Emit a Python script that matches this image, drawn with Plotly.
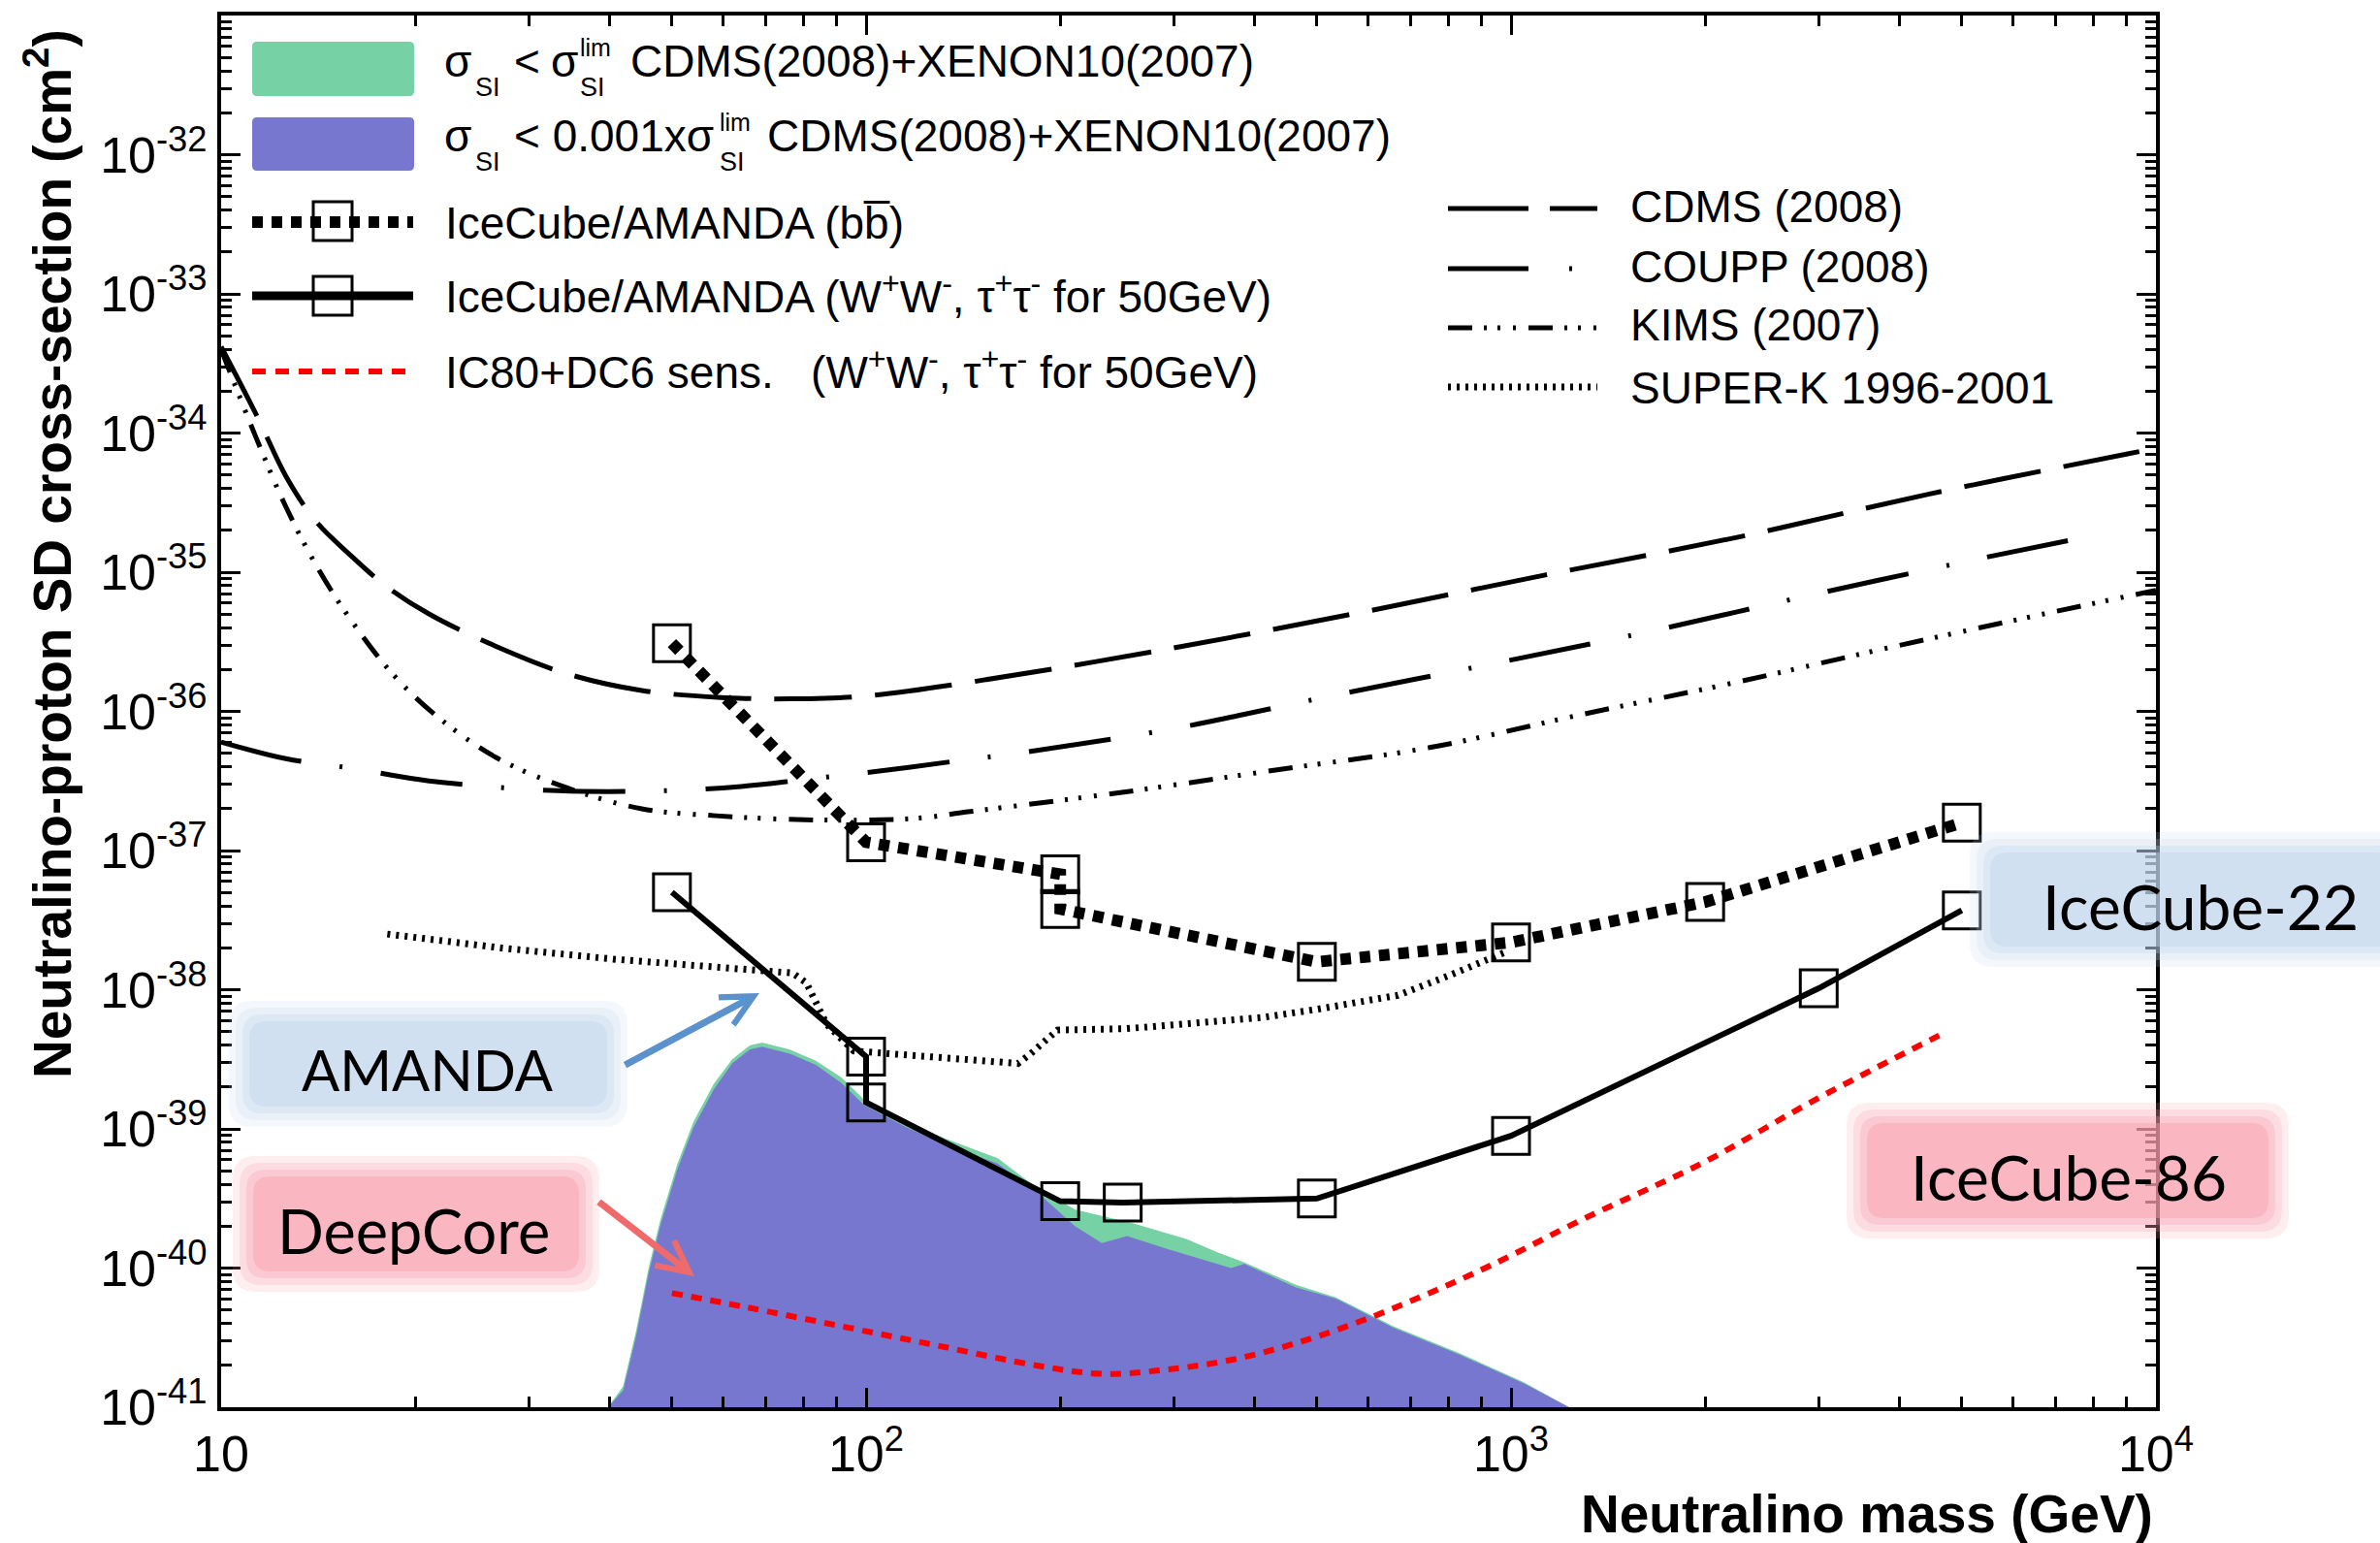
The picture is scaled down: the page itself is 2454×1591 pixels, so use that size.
import plotly.graph_objects as go

# ---------------- data : neutralino mass (GeV) and log10(cross-section / cm^2) ----------------
cdms_mass = [10, 11.4, 12.6, 14, 15.8, 17.9, 21, 26.9, 34.4, 44.9, 59.6, 76.2, 99.3, 145, 287, 569, 1130, 2239, 4436, 9036, 10000]
cdms_log = [-33.38, -33.89, -34.31, -34.63, -34.87, -35.09, -35.30, -35.54, -35.73, -35.85, -35.90, -35.91, -35.89,
            -35.79, -35.56, -35.30, -35.02, -34.75, -34.44, -34.15, -34.11]

coupp_mass = [10, 12.6, 16, 21, 33.3, 49, 64, 80.4, 108.6, 141.6, 166, 295, 525, 955, 1702, 2944, 5236, 8337]
coupp_log = [-36.22, -36.34, -36.41, -36.50, -36.57, -36.57, -36.54, -36.49, -36.42, -36.35, -36.31, -36.13,
             -35.89, -35.65, -35.41, -35.16, -34.91, -34.72]

kims_mass = [10, 11.3, 12.6, 14.2, 16.1, 18.6, 21.8, 26.9, 34.4, 44.9, 58.5, 83.4, 118.6, 145, 251, 434, 748,
             1294, 2239, 3873, 6699, 10000]
kims_log = [-33.40, -34.02, -34.53, -34.99, -35.38, -35.75, -36.05, -36.34, -36.55, -36.70, -36.75, -36.78, -36.77,
            -36.72, -36.58, -36.42, -36.26, -36.02, -35.79, -35.54, -35.30, -35.13]

superk_mass = [18.1, 27.2, 40.5, 60.1, 76.9, 80.8, 86.9, 95.7, 108, 172, 180, 198, 253, 411, 501, 668, 800, 980]
superk_log = [-37.60, -37.70, -37.78, -37.84, -37.88, -37.95, -38.25, -38.44, -38.46, -38.53, -38.46, -38.29,
              -38.28, -38.20, -38.14, -38.04, -37.90, -37.73]

bb_mass = [50, 100, 200, 200, 500, 1000, 2000, 5000]
bb_log = [-35.51, -36.94, -37.17, -37.42, -37.80, -37.66, -37.37, -36.80]

ww_mass = [50, 100, 100, 200, 250, 500, 1000, 3000, 5000]
ww_log = [-37.30, -38.48, -38.81, -39.52, -39.53, -39.50, -39.05, -37.99, -37.43]

ic80_mass = [50, 65, 92, 130, 184, 232, 292, 368, 464, 586, 739, 931, 1318, 1991, 2965, 4742]
ic80_log = [-40.18, -40.28, -40.42, -40.56, -40.70, -40.76, -40.73, -40.66, -40.54, -40.38, -40.19, -39.98,
            -39.63, -39.24, -38.79, -38.30]

green_mass = [39.8, 42, 44, 46, 48, 51, 54, 58, 62, 66, 69, 76.2, 83.6, 91.6, 99.3, 115.6, 132.7, 160, 183.6,
              211, 260, 313, 352, 386, 464, 535, 658, 830, 1047, 1230]
green_log = [-41.0, -40.85, -40.45, -40.0, -39.65, -39.25, -38.95, -38.68, -38.50, -38.40, -38.38, -38.43, -38.51,
             -38.63, -38.79, -38.95, -39.07, -39.21, -39.42, -39.58, -39.68, -39.79, -39.89, -39.96, -40.12,
             -40.21, -40.42, -40.61, -40.82, -41.0]

blue_mass = [39.8, 42, 44, 46, 48, 51, 54, 58, 62, 66, 69, 76.2, 83.6, 91.6, 99.3, 115.6, 132.7, 160, 183.6,
             211, 232, 254, 292, 328, 368, 386, 464, 535, 658, 830, 1047, 1230]
blue_log = [-41.0, -40.88, -40.49, -40.04, -39.69, -39.29, -38.99, -38.72, -38.53, -38.43, -38.41, -38.46, -38.54,
            -38.67, -38.83, -38.99, -39.11, -39.25, -39.45, -39.70, -39.82, -39.77, -39.86, -39.93, -40.00,
            -39.97, -40.14, -40.22, -40.43, -40.62, -40.83, -41.0]

x_tickvals = [10, 100, 1000, 10000]
x_ticktext = ["10", "10<sup>2</sup>", "10<sup>3</sup>", "10<sup>4</sup>"]
y_exps = list(range(-41, -31))
y_ticktext = ["10<sup>%d</sup>" % e for e in y_exps]


def lin(vals):
    return [10.0 ** v for v in vals]


# ---------------- geometry helpers (pixel -> paper) ----------------
W, H = 2454, 1591
L, R, T, B = 228, 2223, 16, 1451


def xp(x):
    return (x - L) / (R - L)


def yp(y):
    return (B - y) / (B - T)


def rrect(x0, y0, x1, y1, r):
    def P(x, y):
        return "%.5f,%.5f" % (xp(x), yp(y))
    return ("M %s L %s Q %s %s L %s Q %s %s L %s Q %s %s L %s Q %s %s Z" % (
        P(x0 + r, y0), P(x1 - r, y0), P(x1, y0), P(x1, y0 + r), P(x1, y1 - r), P(x1, y1), P(x1 - r, y1),
        P(x0 + r, y1), P(x0, y1), P(x0, y1 - r), P(x0, y0 + r), P(x0, y0), P(x0 + r, y0)))


FONT = "Liberation Sans, Arial, Helvetica, sans-serif"
BOXFONT = "Lato, Open Sans, sans-serif"

fig = go.Figure()

# shaded regions
fig.add_trace(go.Scatter(x=green_mass, y=lin(green_log), mode="lines", fill="toself",
                         fillcolor="#76d1a5", line=dict(width=0, color="#76d1a5"), showlegend=False))
fig.add_trace(go.Scatter(x=blue_mass, y=lin(blue_log), mode="lines", fill="toself",
                         fillcolor="#7777cf", line=dict(width=0, color="#7777cf"), showlegend=False))

# direct-detection limits
fig.add_trace(go.Scatter(x=cdms_mass, y=lin(cdms_log), mode="lines", line_shape="spline",
                         line=dict(color="black", width=5, dash="80px,24px"), showlegend=False))
fig.add_trace(go.Scatter(x=coupp_mass, y=lin(coupp_log), mode="lines", line_shape="spline",
                         line=dict(color="black", width=5, dash="85px,40px,3px,40px"), showlegend=False))
fig.add_trace(go.Scatter(x=kims_mass, y=lin(kims_log), mode="lines", line_shape="spline",
                         line=dict(color="black", width=5, dash="25px,12px,3px,11px,3px,13px,3px,13px"),
                         showlegend=False))
fig.add_trace(go.Scatter(x=superk_mass, y=lin(superk_log), mode="lines",
                         line=dict(color="black", width=7, dash="3px,6px"), showlegend=False))

# IceCube sensitivity
fig.add_trace(go.Scatter(x=ic80_mass, y=lin(ic80_log), mode="lines", line_shape="spline",
                         line=dict(color="#ff0000", width=6, dash="11px,9px"), showlegend=False))
fig.add_trace(go.Scatter(x=ww_mass, y=lin(ww_log), mode="lines+markers",
                         line=dict(color="black", width=6),
                         marker=dict(symbol="square-open", size=38, color="black", line=dict(width=3)),
                         showlegend=False))
fig.add_trace(go.Scatter(x=bb_mass, y=lin(bb_log), mode="lines+markers",
                         line=dict(color="black", width=12, dash="11px,9px"),
                         marker=dict(symbol="square-open", size=38, color="black", line=dict(width=3)),
                         showlegend=False))

shapes = []
ann = []

# ---------------- hand-made legend (left block) ----------------
shapes.append(dict(type="path", xref="paper", yref="paper", path=rrect(260, 43, 427, 99, 5),
                   fillcolor="#76d1a5", line=dict(width=0), layer="above"))
shapes.append(dict(type="path", xref="paper", yref="paper", path=rrect(260, 121, 427, 176, 5),
                   fillcolor="#7777cf", line=dict(width=0), layer="above"))


def hline(x0, x1, y, color, width, dash="solid"):
    shapes.append(dict(type="line", xref="paper", yref="paper", x0=xp(x0), x1=xp(x1), y0=yp(y), y1=yp(y),
                       line=dict(color=color, width=width, dash=dash), layer="above"))


def sq(cx, cy, s=40):
    shapes.append(dict(type="rect", xref="paper", yref="paper", x0=xp(cx - s / 2), x1=xp(cx + s / 2),
                       y0=yp(cy + s / 2), y1=yp(cy - s / 2), line=dict(color="black", width=3),
                       fillcolor="rgba(0,0,0,0)", layer="above"))


hline(260, 426, 229, "black", 12, "11px,9px")
sq(343, 228)
hline(260, 426, 305, "black", 9)
sq(343, 305)
hline(260, 426, 383, "#ff0000", 6, "14px,10px")

# right block
hline(1493, 1647, 215, "black", 5, "83px,22px")
hline(1493, 1647, 277, "black", 5, "83px,42px,3px,40px")
hline(1493, 1647, 338, "black", 5, "25px,12px,3px,11px,3px,13px,3px,13px")
hline(1493, 1647, 399, "black", 7, "3px,6px")


def txt(x, y, s, size=46, anchor="left", family=FONT, color="black"):
    ann.append(dict(xref="paper", yref="paper", x=xp(x), y=yp(y), text=s, showarrow=False,
                    xanchor=anchor, yanchor="middle", font=dict(family=family, size=size, color=color),
                    borderpad=0))


# line 1
txt(457, 63, "σ")
txt(489, 90, "SI", 27)
txt(529, 63, "<")
txt(567, 63, "σ")
txt(597, 49, "lim", 25)
txt(597, 90, "SI", 27)
txt(649, 63, "CDMS(2008)+XENON10(2007)")
# line 2
txt(457, 140, "σ")
txt(489, 167, "SI", 27)
txt(529, 140, "< 0.001xσ")
txt(741, 126, "lim", 25)
txt(741, 167, "SI", 27)
txt(790, 140, "CDMS(2008)+XENON10(2007)")
# lines 3-5
txt(458, 230, "IceCube/AMANDA (bb\u0305)")
txt(458, 303, "IceCube/AMANDA (W<sup>+</sup>W<sup>-</sup>, τ<sup>+</sup>τ<sup>-</sup> for 50GeV)")
txt(458, 381, "IC80+DC6 sens. \u00a0\u00a0(W<sup>+</sup>W<sup>-</sup>, τ<sup>+</sup>τ<sup>-</sup> for 50GeV)")
# right block text
txt(1680, 213, "CDMS (2008)")
txt(1680, 275, "COUPP (2008)")
txt(1680, 335, "KIMS (2007)")
txt(1680, 400, "SUPER-K 1996-2001")


# ---------------- glowing label boxes ----------------
def glowbox(x0, y0, x1, y1, rgb, alphas=(0.18, 0.22, 0.3, 0.45), step=7):
    for i, a in enumerate(alphas):
        d = i * step
        shapes.append(dict(type="path", xref="paper", yref="paper",
                           path=rrect(x0 + d, y0 + d, x1 - d, y1 - d, 24 - 2 * i),
                           fillcolor="rgba(%d,%d,%d,%.2f)" % (rgb + (a,)), line=dict(width=0), layer="above"))


glowbox(236, 1032, 647, 1162, (196, 216, 238))
glowbox(240, 1192, 618, 1332, (249, 160, 172))
glowbox(2031, 858, 2490, 997, (196, 216, 238))
glowbox(1904, 1137, 2360, 1277, (249, 160, 172))

txt(441, 1102, "AMANDA", 58, "center", BOXFONT)
txt(426, 1268, "DeepCore", 63, "center", BOXFONT)
txt(2269, 934, "IceCube-22", 64, "center", BOXFONT)
txt(2133, 1213, "IceCube-86", 64, "center", BOXFONT)

# arrows
ann.append(dict(xref="paper", yref="paper", x=xp(783), y=yp(1024), ax=643 - 783, ay=1099 - 1024,
                axref="pixel", ayref="pixel", text="", showarrow=True, arrowhead=5, arrowsize=0.9,
                arrowwidth=7, arrowcolor="#5b92cc"))
ann.append(dict(xref="paper", yref="paper", x=xp(716), y=yp(1316), ax=616 - 716, ay=1238 - 1316,
                axref="pixel", ayref="pixel", text="", showarrow=True, arrowhead=5, arrowsize=0.9,
                arrowwidth=7, arrowcolor="#ef6b6b"))

# axis titles
ann.append(dict(xref="paper", yref="paper", x=xp(50), y=yp(571), textangle=-90, showarrow=False,
                text="<b>Neutralino-proton SD cross-section (cm<sup>2</sup>)</b>", xanchor="center",
                yanchor="middle", font=dict(family=FONT, size=55, color="black")))
ann.append(dict(xref="paper", yref="paper", x=xp(2222), y=yp(1561), showarrow=False,
                text="<b>Neutralino mass (GeV)</b>", xanchor="right", yanchor="middle",
                font=dict(family=FONT, size=55, color="black")))

x_minor = [k * 10 ** d for d in (1, 2, 3) for k in range(2, 10)]
y_minor = [k * 10.0 ** d for d in range(-41, -31) for k in range(2, 10)]

fig.update_layout(
    width=W, height=H, template="none",
    margin=dict(l=L, r=W - R, t=T, b=H - B, autoexpand=False),
    paper_bgcolor="white", plot_bgcolor="white",
    showlegend=False,
    xaxis=dict(type="log", range=[1, 4], showgrid=False, zeroline=False, automargin=False,
               showline=True, linecolor="black", linewidth=4, mirror="allticks",
               ticks="inside", ticklen=20, tickwidth=3, tickcolor="black",
               tickvals=x_tickvals, ticktext=x_ticktext,
               tickfont=dict(family=FONT, size=52, color="black"),
               minor=dict(tickvals=x_minor, ticks="inside", ticklen=11, tickwidth=2.5, tickcolor="black")),
    yaxis=dict(type="log", range=[-41, -31], showgrid=False, zeroline=False, automargin=False,
               showline=True, linecolor="black", linewidth=4, mirror="allticks",
               ticks="inside", ticklen=20, tickwidth=3, tickcolor="black",
               tickvals=[10.0 ** e for e in y_exps], ticktext=y_ticktext,
               tickfont=dict(family=FONT, size=52, color="black"),
               minor=dict(tickvals=y_minor, ticks="inside", ticklen=11, tickwidth=2.5, tickcolor="black")),
    shapes=shapes, annotations=ann,
)

fig.write_html("out.html")
